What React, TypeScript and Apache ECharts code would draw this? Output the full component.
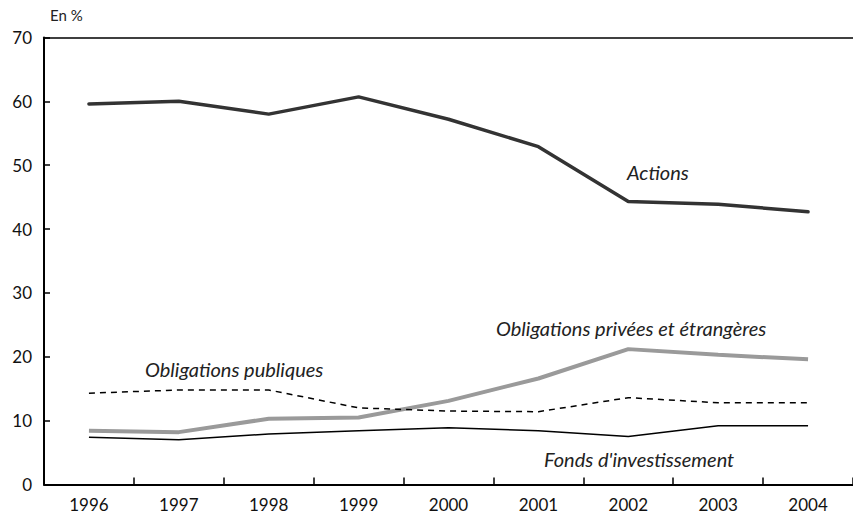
import React, { useEffect, useRef } from "react";
import * as echarts from "echarts";

const years = ["1996", "1997", "1998", "1999", "2000", "2001", "2002", "2003", "2004"];
const actions = [59.6, 60.0, 58.0, 60.7, 57.2, 52.9, 44.3, 43.9, 42.7];
const obligPrivees = [8.4, 8.2, 10.3, 10.5, 13.1, 16.6, 21.2, 20.3, 19.6];
const obligPubliques = [14.3, 14.8, 14.8, 12.0, 11.5, 11.4, 13.6, 12.8, 12.8];
const fonds = [7.4, 7.0, 7.9, 8.4, 8.9, 8.4, 7.5, 9.2, 9.2];
const yTicks = { min: 0, max: 70, interval: 10 };

const FONT = "Lato";

export default function App() {
  const ref = useRef<HTMLDivElement>(null);
  useEffect(() => {
    if (!ref.current) return;
    const chart = echarts.init(ref.current, undefined, { renderer: "svg" });
    const labelStyle = {
      fontFamily: FONT,
      fontSize: 20,
      fontStyle: "italic",
      fill: "#222",
      verticalAlign: "middle",
      align: "left",
    };
    chart.setOption({
      animation: false,
      backgroundColor: "#fff",
      textStyle: { fontFamily: FONT },
      grid: { left: 44, right: 0, top: 37.5, bottom: 38.5, containLabel: false },
      xAxis: [
        {
          type: "category",
          data: years,
          boundaryGap: true,
          axisLine: { lineStyle: { color: "#000", width: 2 } },
          axisTick: { show: true, inside: true, length: 7, lineStyle: { color: "#000", width: 1.5 } },
          axisLabel: { color: "#111", fontSize: 17, fontFamily: FONT, margin: 11 },
          splitLine: { show: false },
        },
        {
          type: "category",
          data: years,
          position: "top",
          axisLine: { show: true, lineStyle: { color: "#000", width: 1.5 } },
          axisTick: { show: false },
          axisLabel: { show: false },
        },
      ],
      yAxis: {
        type: "value",
        min: yTicks.min,
        max: yTicks.max,
        interval: yTicks.interval,
        axisLine: { show: true, lineStyle: { color: "#000", width: 2 } },
        axisTick: { show: true, inside: true, length: 6, lineStyle: { color: "#000", width: 1.5 } },
        axisLabel: { color: "#111", fontSize: 17, fontFamily: FONT, margin: 12 },
        splitLine: { show: false },
      },
      graphic: [
        { type: "text", x: 50, y: 15, style: { text: "En %", fontFamily: FONT, fontSize: 15, fill: "#222", verticalAlign: "middle" } },
        { type: "text", x: 627, y: 172, style: { text: "Actions", ...labelStyle } },
        { type: "text", x: 496, y: 328, style: { text: "Obligations privées et étrangères", ...labelStyle } },
        { type: "text", x: 145, y: 369, style: { text: "Obligations publiques", ...labelStyle } },
        { type: "text", x: 544, y: 459, style: { text: "Fonds d'investissement", ...labelStyle } },
      ],
      series: [
        {
          name: "Actions",
          type: "line",
          data: actions,
          symbol: "none",
          lineStyle: { color: "#333", width: 3.5, cap: "round" },
        },
        {
          name: "Obligations privées et étrangères",
          type: "line",
          data: obligPrivees,
          symbol: "none",
          lineStyle: { color: "#9a9a9a", width: 4 },
        },
        {
          name: "Obligations publiques",
          type: "line",
          data: obligPubliques,
          symbol: "none",
          lineStyle: { color: "#000", width: 1.5, type: [6, 5] },
        },
        {
          name: "Fonds d'investissement",
          type: "line",
          data: fonds,
          symbol: "none",
          lineStyle: { color: "#000", width: 1.5 },
        },
      ],
    });
    return () => chart.dispose();
  }, []);
  return <div ref={ref} style={{ position: "fixed", left: 0, top: 0, width: 853, height: 523 }} />;
}
